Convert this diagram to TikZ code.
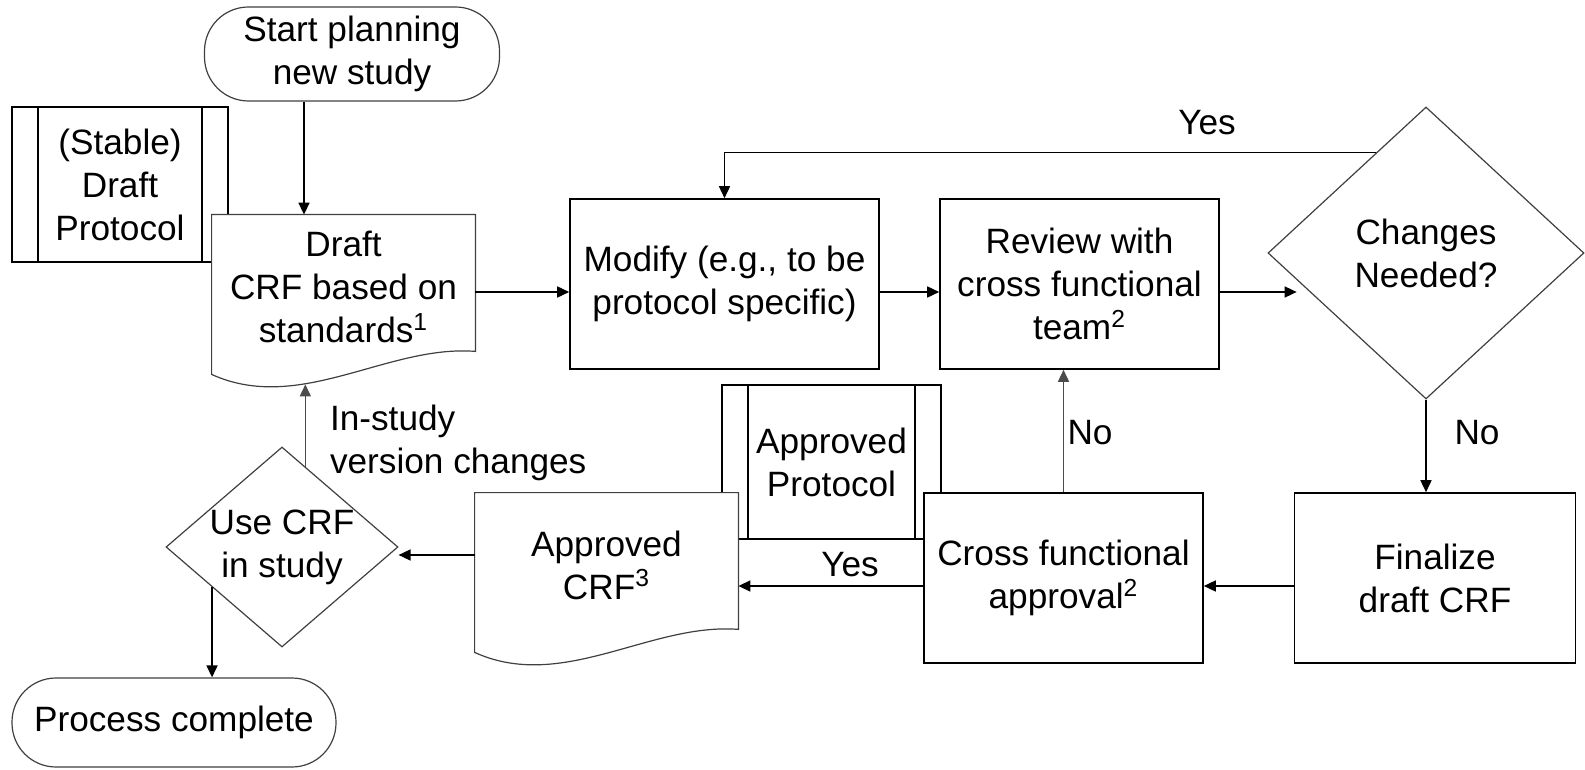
\documentclass[tikz,border=0pt]{standalone}
\usepackage{fontspec}
\setmainfont{Liberation Sans}
\usetikzlibrary{shapes.geometric,arrows.meta,calc}

% outline of a document shape round a doc node
\newcommand{\docout}[1]{%
  \draw[docline] (#1.north west) -- (#1.north east) -- ([shift={(0,-8)}]#1.south east)
    .. controls ([shift={(-88,-15)}]#1.south east) and ([shift={(88,55)}]#1.south west)
    .. ([shift={(0,15)}]#1.south west) -- cycle;}

\begin{document}
\begin{tikzpicture}[x=0.5pt,y=-0.5pt,
    every node/.style={font=\fontsize{17.6}{21.5}\selectfont},
    procbox/.style={rectangle,draw,fill=white,line width=0.8pt,align=center,minimum height=85pt},
    predef/.style={procbox,path picture={
        \draw[line width=0.8pt] ([xshift=13pt]path picture bounding box.north west) -- ([xshift=13pt]path picture bounding box.south west);
        \draw[line width=0.8pt] ([xshift=-13pt]path picture bounding box.north east) -- ([xshift=-13pt]path picture bounding box.south east);}},
    doc/.style={rectangle,fill=white,align=center,minimum width=131.5pt,minimum height=72pt},
    docline/.style={draw=black!75,line width=0.6pt},
    term/.style={rectangle,rounded corners=22pt,draw=black!75,line width=0.6pt,fill=white,align=center,inner sep=1pt},
    decision/.style={diamond,draw=black!75,line width=0.6pt,fill=white,inner sep=0pt},
    arr/.style={-{Triangle[length=6pt,width=5.5pt]},line width=0.8pt}]

      \useasboundingbox (0,0) rectangle (1585,770);

      % protocols first, the documents and boxes lie over them
      \node [predef,minimum width=108pt,minimum height=77.5pt] (sdp) at (120,184.5) {(Stable)\\Draft\\Protocol};
      \node [predef,minimum width=109.5pt,minimum height=77pt] (apr) at (831.5,462) {Approved\\Protocol};

      \node [term,minimum width=147.5pt,minimum height=47pt] (start) at (352,54) {Start planning\\new study};
      \node [doc] (dcrf) at (343.5,287) {Draft\\CRF based on\\standards\textsuperscript{1}};
      \docout{dcrf}
      \node [procbox,minimum width=154.5pt] (mod) at (724.5,284) {Modify (e.g., to be\\protocol specific)};
      \node [procbox,minimum width=139.5pt] (rev) at (1079.5,284) {Review with\\cross functional\\team\textsuperscript{2}};
      \node [decision,minimum width=158pt,minimum height=146pt,
        label={[align=center]center:Changes\\Needed?}] (chg) at (1426,253) {};
      \node [procbox,minimum width=140.5pt] (fin) at (1435,578) {Finalize\\draft CRF};
      \node [procbox,minimum width=139.5pt] (cfa) at (1063.5,578) {Cross functional\\approval\textsuperscript{2}};
      \node [doc] (acrf) at (606.5,565) {Approved\\CRF\textsuperscript{3}};
      \docout{acrf}
      \node [decision,minimum width=116pt,minimum height=100pt,
        label={[align=center]center:Use CRF\\in study}] (ucrf) at (282,547) {};
      \node [term,minimum width=162pt,minimum height=44.5pt] (pc) at (174,722.5) {Process complete};

      % connectors
      \draw[arr] ([xshift=-24pt]start.south) -- ([xshift=-24pt]start.south |- dcrf.north);
      \draw[arr] ([yshift=-4pt]mod.west -| dcrf.east) -- ([yshift=-4pt]mod.west);
      \draw[arr] ([yshift=-4pt]mod.east) -- ([yshift=-4pt]mod.east -| rev.west);
      \draw[arr,shorten >=6pt] ([yshift=-4pt]rev.east) -- ([yshift=-4pt]rev.east -| chg.198);

      \coordinate (yesst) at ($(chg.west)!0.685!(chg.north)$);
      \draw[arr] (yesst) -| (mod.north);
      \node (yes1) at (1207,123) {Yes};

      \draw[arr] (chg.south) -- (chg.south |- fin.north);
      \node (no1) at (1477,433) {No};

      \draw[arr] ([yshift=-4pt]fin.west) -- ([yshift=-4pt]fin.west -| cfa.east);
      \draw[arr,draw=black!70] (cfa.north) -- (cfa.north |- rev.south);
      \node (no2) at (1090,433) {No};

      \draw[arr] ([yshift=-4pt]cfa.west) -- ([yshift=-4pt]cfa.west -| acrf.east);
      \node (yes2) at (850,565) {Yes};

      \draw[arr] ([yshift=5pt]acrf.west) -- ([yshift=5pt]acrf.west -| ucrf.east);

      \coordinate (inst) at ($(ucrf.north)!0.2!(ucrf.east)$);
      \draw[arr,draw=black!70] (inst) -- ($(inst |- dcrf.south)+(0,25)$);
      \node [anchor=west,align=left] (instl) at (323,443) {In-study\\version changes};

      \coordinate (done) at ($(ucrf.west)!0.4!(ucrf.south)$);
      \draw[arr] (done) -- (done |- pc.north);

    \end{tikzpicture}
\end{document}
